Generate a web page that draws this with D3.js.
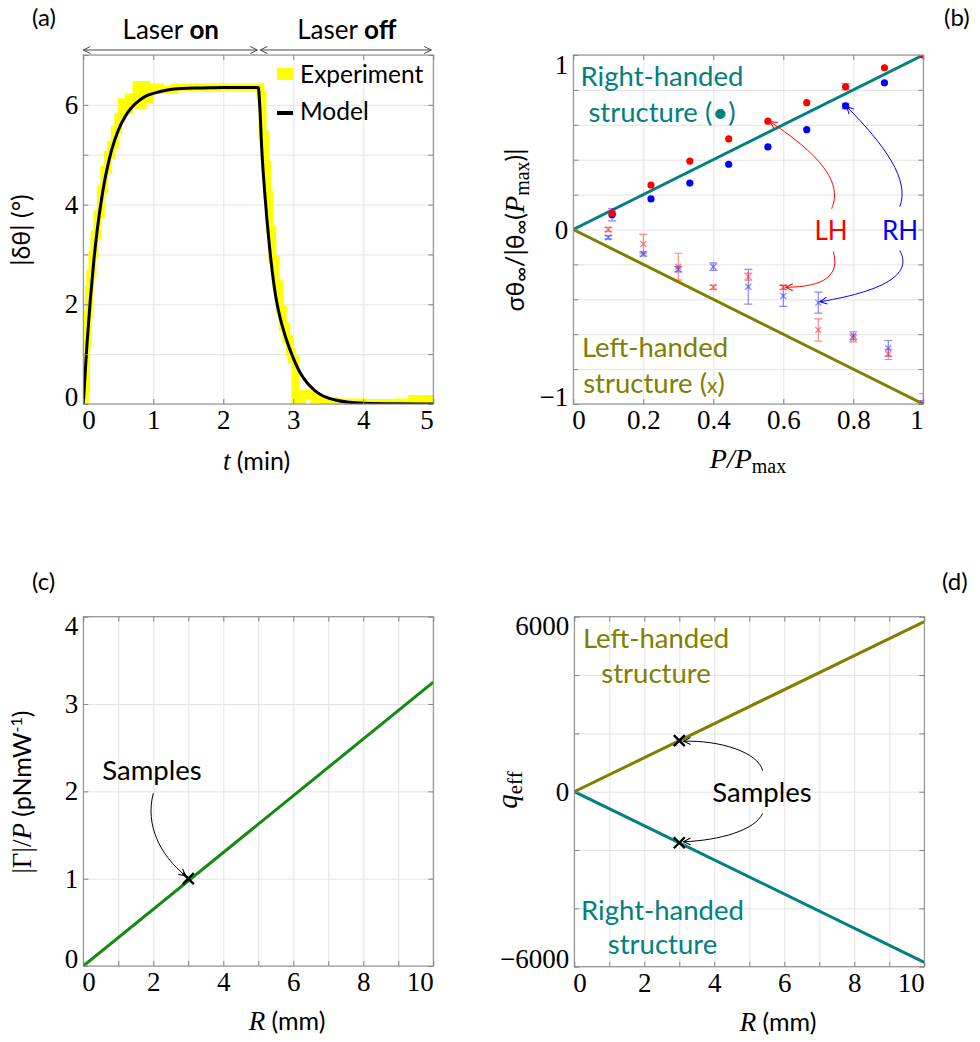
<!DOCTYPE html>
<html><head><meta charset="utf-8">
<script src="https://cdn.jsdelivr.net/npm/d3@7"></script>
<style>body{margin:0;background:#fff}</style>
</head><body>
<script>
// ---------------- DATA ----------------
// (a) time response
const aModelT = [0,0.05,0.1,0.15,0.2,0.25,0.3,0.35,0.4,0.5,0.6,0.7,0.8,0.9,1.0,1.2,1.4,1.7,2.0,2.5,2.52,2.55,2.6,2.65,2.7,2.75,2.8,2.9,3.0,3.1,3.2,3.3,3.4,3.6,3.8,4.0,4.5,5.0];
const aModelV = [0,1.15,2.09,2.87,3.50,4.01,4.44,4.78,5.07,5.49,5.77,5.96,6.09,6.18,6.23,6.30,6.33,6.34,6.35,6.35,6.0,5.1,4.1,3.3,2.65,2.15,1.8,1.3,0.92,0.62,0.42,0.28,0.18,0.08,0.035,0.015,0.003,0];
const aExpT = [0,0.02,0.04,0.06,0.08,0.1,0.13,0.16,0.2,0.25,0.3,0.35,0.4,0.45,0.5,0.55,0.6,0.65,0.7,0.76,0.8,0.85,0.9,0.95,1.1,1.3,1.6,2.0,2.5,2.53,2.56,2.6,2.63,2.66,2.7,2.75,2.8,2.85,2.9,2.95,2.98,3.03,3.08,3.12,3.2,3.3,3.45,3.6,4.0,4.5,4.7,5.0];
const aExpV = [0,0.3,1.2,1.8,2.3,2.6,3.0,3.4,3.8,4.3,4.7,5.0,5.2,5.5,5.75,6.05,5.9,6.15,6.0,6.4,6.0,6.4,6.1,6.35,6.3,6.35,6.35,6.35,6.35,6.2,5.4,4.8,4.2,3.5,2.9,2.4,1.9,1.55,1.3,1.05,0.9,0.0,0.05,0.2,0.18,0.1,0.06,0.03,0.02,0.03,0.1,0.12];
const aXTicks = [0,1,2,3,4,5];
const aXLabels = ['0','1','2','3','4','5'];
const aYTicks = [0,1,2,3,4,5,6,7];
const aYLabelVals = [0,2,4,6];
const aYLabels = ['0','2','4','6'];
const aPhaseT = [0,2.5,5];

// (b) normalized rotation vs power
const bDotX = [0.111,0.222,0.333,0.444,0.556,0.667,0.778,0.889,1.0];
const bDotLH = [0.093,0.255,0.392,0.519,0.621,0.727,0.818,0.927,1.0];
const bDotLHErr = [0.012,0,0,0,0,0,0.018,0,0];
const bDotRH = [0.085,0.175,0.266,0.374,0.473,0.572,0.708,0.841,1.0];
const bDotRHErr = [0.035,0,0,0,0,0,0.015,0,0];
const bCrossX = [0.1,0.2,0.3,0.4,0.5,0.6,0.7,0.8,0.9,1.0];
const bCrossLH = [0.0,-0.083,-0.213,-0.331,-0.27,-0.331,-0.576,-0.624,-0.715,-1.0];
const bCrossLHErr = [0.012,0.055,0.077,0.012,0.02,0.012,0.064,0.02,0.03,0.06];
const bCrossRH = [-0.045,-0.14,-0.228,-0.213,-0.328,-0.381,-0.419,-0.608,-0.681,-1.0];
const bCrossRHErr = [0.01,0.012,0.015,0.022,0.1,0.06,0.06,0.022,0.045,0.02];
const bLineP = [0,1];
const bRightLine = [0,1];
const bLeftLine = [0,-1];
const bTicks = [0,0.2,0.4,0.6,0.8,1];
const bXLabels = ['0','0.2','0.4','0.6','0.8','1'];
const bYTicks = [-1,-0.8,-0.6,-0.4,-0.2,0,0.2,0.4,0.6,0.8,1];
const bYLabelVals = [-1,0,1];
const bYLabels = ['\u22121','0','1'];

// (c) torque per power vs radius
const cLineR = [0,10];
const cLineG = [0,3.25];
const cSampleR = [3];
const cSampleG = [1.0];
const cXTicks = [0,1,2,3,4,5,6,7,8,9,10];
const cXLabelVals = [0,2,4,6,8,10];
const cXLabels = ['0','2','4','6','8','10'];
const cYTicks = [0,1,2,3,4];
const cYLabels = ['0','1','2','3','4'];

// (d) q_eff vs radius
const dLineR = [0,10];
const dLeft = [0,5830];
const dRight = [0,-5850];
const dSampleR = [3,3];
const dSampleQ = [1750,-1750];
const dYTicks = [-6000,-4000,-2000,0,2000,4000,6000];
const dYLabelVals = [-6000,0,6000];
const dYLabels = ['\u22126000','0','6000'];

// ---------------- STYLE ----------------
const SERIF = "'Liberation Serif','Times New Roman',serif";
const SANS = "Lato,'Open Sans',sans-serif";
const GRID = '#e3e3e3', BOX = '#858585';
const TEAL = '#008080', OLIVE = '#808000', GREEN = '#148a14';
const RED = '#ff0000', BLUE = '#0000ff';
const RED_T = 'rgba(255,40,40,0.55)', BLUE_T = 'rgba(40,40,255,0.55)';
const TICKFS = 27;

const svg = d3.select('body').append('svg').attr('width',980).attr('height',1042)
  .style('font-family',SANS);
const defs = svg.append('defs');
function marker(id,color){
  defs.append('marker').attr('id',id).attr('viewBox','-10 -5 12 10')
    .attr('refX',0).attr('refY',0).attr('markerWidth',12).attr('markerHeight',10)
    .attr('markerUnits','userSpaceOnUse').attr('orient','auto-start-reverse')
    .append('path').attr('d','M-7,-3.5L0,0L-7,3.5').attr('fill','none')
    .attr('stroke',color).attr('stroke-width',1);
}
marker('arrK','#000'); marker('arrR',RED); marker('arrB',BLUE); marker('arrG','#444');

function panel(o){
  const x = d3.scaleLinear().domain(o.xd).range([o.x0,o.x1]);
  const y = d3.scaleLinear().domain(o.yd).range([o.y1,o.y0]);
  const w = o.x1-o.x0, h = o.y1-o.y0;
  const root = svg.append('g');
  const gridL = root.append('g'), plotL = root.append('g'), axL = root.append('g'), annoL = root.append('g');
  defs.append('clipPath').attr('id','clip'+o.name).append('rect')
    .attr('x',o.x0).attr('y',o.y0).attr('width',w).attr('height',h);
  plotL.attr('clip-path',`url(#clip${o.name})`);
  const styleGrid = s => { s.select('.domain').remove(); s.selectAll('text').remove(); s.selectAll('line').attr('stroke',GRID).attr('stroke-width',1); };
  gridL.append('g').attr('transform',`translate(0,${o.y1})`)
    .call(d3.axisBottom(x).tickValues(o.xTicks).tickSize(-h).tickFormat(''))
    .call(styleGrid);
  gridL.append('g').attr('transform',`translate(${o.x0},0)`)
    .call(d3.axisLeft(y).tickValues(o.yTicks).tickSize(-w).tickFormat(''))
    .call(styleGrid);
  const tk = s => { s.select('.domain').remove(); s.selectAll('line').attr('stroke',BOX); };
  const xLab = v => { const i = o.xLabVals.indexOf(v); return i<0 ? '' : o.xLabs[i]; };
  const yLab = v => { const i = o.yLabVals.indexOf(v); return i<0 ? '' : o.yLabs[i]; };
  axL.append('g').attr('transform',`translate(0,${o.y1})`)
    .call(d3.axisBottom(x).tickValues(o.xTicks).tickSizeInner(-5).tickSizeOuter(0).tickFormat(xLab))
    .call(tk)
    .call(s => s.selectAll('text').attr('dy',null).attr('y',25)
      .attr('font-family',SERIF).attr('font-size',TICKFS).attr('fill','#000')
      .attr('text-anchor', d => d===o.xd[0] ? 'start' : (d===o.xd[1] ? 'end' : 'middle'))
      .attr('x', d => d===o.xd[0] ? -1.5 : 0));
  axL.append('g').attr('transform',`translate(0,${o.y0})`)
    .call(d3.axisTop(x).tickValues(o.xTicks).tickSizeInner(-5).tickSizeOuter(0).tickFormat(''))
    .call(tk).call(s=>s.selectAll('text').remove());
  axL.append('g').attr('transform',`translate(${o.x0},0)`)
    .call(d3.axisLeft(y).tickValues(o.yTicks).tickSizeInner(-5).tickSizeOuter(0).tickFormat(yLab))
    .call(tk)
    .call(s => s.selectAll('text').attr('dy',null).attr('x',-5)
      .attr('font-family',SERIF).attr('font-size',TICKFS).attr('fill','#000').attr('text-anchor','end')
      .attr('y', d => d===o.yd[1] ? (o.y0 - y(d)) + 18 : (d===o.yd[0] ? 1 : 8.5)));
  axL.append('g').attr('transform',`translate(${o.x1},0)`)
    .call(d3.axisRight(y).tickValues(o.yTicks).tickSizeInner(-5).tickSizeOuter(0).tickFormat(''))
    .call(tk).call(s=>s.selectAll('text').remove());
  axL.append('rect').attr('x',o.x0).attr('y',o.y0).attr('width',w).attr('height',h)
    .attr('fill','none').attr('stroke',BOX).attr('stroke-width',1);
  return {x,y,plotL,annoL};
}

function bez(p,x,y){
  return `M${x(p[0][0])},${y(p[0][1])}C${x(p[1][0])},${y(p[1][1])} ${x(p[2][0])},${y(p[2][1])} ${x(p[3][0])},${y(p[3][1])}`;
}
function xMark(sel, px, py, r, color, sw){
  sel.append('path').attr('d',`M${px-r},${py-r}L${px+r},${py+r}M${px-r},${py+r}L${px+r},${py-r}`)
    .attr('stroke',color).attr('stroke-width',sw).attr('fill','none');
}
function label(sel, x, y, parts, opts={}){
  const t = sel.append('text').attr('x',x).attr('y',y).attr('text-anchor',opts.anchor||'middle')
    .attr('font-size',opts.fs||24).attr('font-family',SANS).attr('fill',opts.fill||'#000');
  if(opts.rotate) t.attr('x',null).attr('y',null).attr('transform',`translate(${x},${y}) rotate(-90)`);
  parts.forEach(p => {
    const s = t.append('tspan').text(p.t);
    if(p.ff) s.attr('font-family',p.ff);
    if(p.fs) s.attr('font-size',p.fs);
    if(p.fi) s.attr('font-style','italic');
    if(p.fw) s.attr('font-weight',p.fw);
    if(p.dy) s.attr('dy',p.dy);
  });
  return t;
}

// ---------------- PANEL (a) ----------------
{
  const P = panel({name:'a', x0:83.3, x1:433.3, y0:55, y1:404, xd:[0,5], yd:[0,7],
    xTicks:aXTicks, yTicks:aYTicks, xLabVals:aXTicks, xLabs:aXLabels, yLabVals:aYLabelVals, yLabs:aYLabels});
  const {x,y,plotL,annoL} = P;
  const exp = d3.zip(aExpT,aExpV), mod = d3.zip(aModelT,aModelV);
  plotL.append('path').datum(exp).attr('fill','none').attr('stroke','#ffff00').attr('stroke-width',8)
    .attr('d', d3.line().x(d=>x(d[0])).y(d=>y(d[1])).curve(d3.curveStepAfter));
  plotL.append('path').datum(mod).attr('fill','none').attr('stroke','#000').attr('stroke-width',3)
    .attr('d', d3.line().x(d=>x(d[0])).y(d=>y(d[1])).curve(d3.curveMonotoneX));
  annoL.append('rect').attr('x',277).attr('y',68).attr('width',16).attr('height',12).attr('fill','#ffff00');
  label(annoL, 300, 83, [{t:'Experiment'}], {anchor:'start', fs:24.5});
  annoL.append('line').attr('x1',277).attr('x2',293).attr('y1',113).attr('y2',113).attr('stroke','#000').attr('stroke-width',4);
  label(annoL, 300, 120, [{t:'Model'}], {anchor:'start', fs:24.5});
  [[0,1],[1,2]].forEach(([i,j],k) => {
    annoL.append('line').attr('x1',x(aPhaseT[i]) + (k?2:0)).attr('x2',x(aPhaseT[j]) - (k?2:1))
      .attr('y1',50).attr('y2',50).attr('stroke','#444').attr('stroke-width',1)
      .attr('marker-start','url(#arrG)').attr('marker-end','url(#arrG)');
  });
  label(annoL, (x(aPhaseT[0])+x(aPhaseT[1]))/2, 39, [{t:'Laser '},{t:'on',fw:'bold'}], {fs:26});
  label(annoL, (x(aPhaseT[1])+x(aPhaseT[2]))/2 + 1, 39, [{t:'Laser '},{t:'off',fw:'bold'}], {fs:26});
  label(annoL, 256.5, 470, [{t:'t',ff:SERIF,fi:1,fs:27},{t:' (min)'}], {fs:25});
  label(annoL, 30, 230, [{t:'|\u03b4\u03b8| (\u00b0)'}], {rotate:1, fs:25});
  label(annoL, 32, 26, [{t:'(a)'}], {anchor:'start', fs:24});
}

// ---------------- PANEL (b) ----------------
{
  const P = panel({name:'b', x0:573.3, x1:923.3, y0:55, y1:404, xd:[0,1], yd:[-1,1],
    xTicks:bTicks, yTicks:bYTicks, xLabVals:bTicks, xLabs:bXLabels, yLabVals:bYLabelVals, yLabs:bYLabels});
  const {x,y,plotL,annoL} = P;
  const ln = d3.line().x(d=>x(d[0])).y(d=>y(d[1]));
  plotL.append('path').datum(d3.zip(bLineP,bRightLine)).attr('d',ln).attr('stroke',TEAL).attr('stroke-width',3).attr('fill','none');
  plotL.append('path').datum(d3.zip(bLineP,bLeftLine)).attr('d',ln).attr('stroke',OLIVE).attr('stroke-width',3).attr('fill','none');
  function errs(xs, vs, es, col){
    xs.forEach((xv,i) => {
      if(!es[i]) return;
      const px = x(xv), a = y(vs[i]-es[i]), b = y(vs[i]+es[i]);
      plotL.append('path').attr('d',`M${px},${a}L${px},${b}M${px-4},${a}L${px+4},${a}M${px-4},${b}L${px+4},${b}`)
        .attr('stroke',col).attr('stroke-width',1.2).attr('fill','none');
    });
  }
  errs(bCrossX,bCrossRH,bCrossRHErr,BLUE_T);
  errs(bCrossX,bCrossLH,bCrossLHErr,RED_T);
  bCrossX.forEach((xv,i)=> xMark(plotL, x(xv), y(bCrossRH[i]), 3, BLUE_T, 1.3));
  bCrossX.forEach((xv,i)=> xMark(plotL, x(xv), y(bCrossLH[i]), 3, RED_T, 1.3));
  errs(bDotX,bDotRH,bDotRHErr,BLUE_T);
  errs(bDotX,bDotLH,bDotLHErr,RED_T);
  plotL.selectAll('circle.rh').data(d3.zip(bDotX,bDotRH)).join('circle').attr('class','rh')
    .attr('cx',d=>x(d[0])).attr('cy',d=>y(d[1])).attr('r',3.6).attr('fill',BLUE);
  plotL.selectAll('circle.lh').data(d3.zip(bDotX,bDotLH)).join('circle').attr('class','lh')
    .attr('cx',d=>x(d[0])).attr('cy',d=>y(d[1])).attr('r',3.6).attr('fill',RED);
  const arrows = [
    {c:RED, m:'arrR', p:[[0.738,0.119],[0.768,0.255],[0.719,0.410],[0.562,0.618]]},
    {c:RED, m:'arrR', p:[[0.743,-0.127],[0.762,-0.261],[0.719,-0.330],[0.607,-0.331]]},
    {c:BLUE, m:'arrB', p:[[0.933,0.131],[0.962,0.284],[0.890,0.484],[0.781,0.704]]},
    {c:BLUE, m:'arrB', p:[[0.933,-0.121],[0.967,-0.244],[0.905,-0.347],[0.705,-0.414]]}
  ];
  arrows.forEach(a => annoL.append('path').attr('d',bez(a.p,x,y)).attr('fill','none')
    .attr('stroke',a.c).attr('stroke-width',1).attr('marker-end',`url(#${a.m})`));
  label(annoL, 831, 240, [{t:'LH'}], {fill:RED, fs:26});
  label(annoL, 900, 240, [{t:'RH'}], {fill:BLUE, fs:26});
  label(annoL, 662, 86, [{t:'Right-handed'}], {fill:TEAL, fs:27.5});
  label(annoL, 662, 122, [{t:'structure (\u2022)'}], {fill:TEAL, fs:27.5});
  label(annoL, 655, 357, [{t:'Left-handed'}], {fill:OLIVE, fs:27.5});
  label(annoL, 654, 393, [{t:'structure ('},{t:'x',fs:21},{t:')'}], {fill:OLIVE, fs:27.5});
  label(annoL, 748, 468, [{t:'P/P',ff:SERIF,fi:1,fs:28},{t:'max',ff:SERIF,fs:20,dy:5}]);
  label(annoL, 524, 230, [{t:'\u03c3\u03b8'},{t:'\u221e',fs:20,dy:4},{t:'/|\u03b8',dy:-4},{t:'\u221e',fs:20,dy:4},
    {t:'(',dy:-4},{t:'P',ff:SERIF,fi:1,fs:28},{t:'max',ff:SERIF,fs:20,dy:5},{t:')|',dy:-5}], {rotate:1, fs:25});
  label(annoL, 944, 26, [{t:'(b)'}], {anchor:'start', fs:24});
}

// ---------------- PANEL (c) ----------------
{
  const P = panel({name:'c', x0:83.3, x1:433.3, y0:616.7, y1:966, xd:[0,10], yd:[0,4],
    xTicks:cXTicks, yTicks:cYTicks, xLabVals:cXLabelVals, xLabs:cXLabels, yLabVals:cYTicks, yLabs:cYLabels});
  const {x,y,plotL,annoL} = P;
  plotL.append('path').datum(d3.zip(cLineR,cLineG)).attr('d',d3.line().x(d=>x(d[0])).y(d=>y(d[1])))
    .attr('stroke',GREEN).attr('stroke-width',3).attr('fill','none');
  cSampleR.forEach((r,i)=> xMark(annoL, x(r), y(cSampleG[i]), 5.5, '#000', 2.4));
  annoL.append('path').attr('d',bez([[2.0,1.978],[1.763,1.615],[2.189,1.271],[2.93,1.03]],x,y))
    .attr('fill','none').attr('stroke','#000').attr('stroke-width',1).attr('marker-end','url(#arrK)');
  label(annoL, 152, 780, [{t:'Samples'}], {fs:27.5});
  label(annoL, 287, 1030, [{t:'R',ff:SERIF,fi:1,fs:27},{t:' (mm)'}], {fs:25});
  label(annoL, 31, 792, [{t:'|\u0393|/',ff:SERIF,fs:27},{t:'P',ff:SERIF,fi:1,fs:27},{t:' (pNmW'},{t:'-1',fs:16,dy:-9},{t:')',dy:9}], {rotate:1, fs:25});
  label(annoL, 32, 590, [{t:'(c)'}], {anchor:'start', fs:24});
}

// ---------------- PANEL (d) ----------------
{
  const P = panel({name:'d', x0:574.3, x1:924.3, y0:616.7, y1:966.7, xd:[0,10], yd:[-6000,6000],
    xTicks:cXTicks, yTicks:dYTicks, xLabVals:cXLabelVals, xLabs:cXLabels, yLabVals:dYLabelVals, yLabs:dYLabels});
  const {x,y,plotL,annoL} = P;
  const ln = d3.line().x(d=>x(d[0])).y(d=>y(d[1]));
  plotL.append('path').datum(d3.zip(dLineR,dLeft)).attr('d',ln).attr('stroke',OLIVE).attr('stroke-width',3).attr('fill','none');
  plotL.append('path').datum(d3.zip(dLineR,dRight)).attr('d',ln).attr('stroke',TEAL).attr('stroke-width',3).attr('fill','none');
  dSampleR.forEach((r,i)=> xMark(annoL, x(r), y(dSampleQ[i]), 5.5, '#000', 2.4));
  annoL.append('path').attr('d',bez([[5.383,720],[5.251,1354],[4.165,1766],[3.12,1731]],x,y))
    .attr('fill','none').attr('stroke','#000').attr('stroke-width',1).attr('marker-end','url(#arrK)');
  annoL.append('path').attr('d',bez([[5.383,-741],[5.163,-1323],[4.163,-1666],[3.12,-1717]],x,y))
    .attr('fill','none').attr('stroke','#000').attr('stroke-width',1).attr('marker-end','url(#arrK)');
  label(annoL, 762, 802, [{t:'Samples'}], {fs:27.5});
  label(annoL, 656, 648, [{t:'Left-handed'}], {fill:OLIVE, fs:27.5});
  label(annoL, 656, 683, [{t:'structure'}], {fill:OLIVE, fs:27.5});
  label(annoL, 662.5, 920, [{t:'Right-handed'}], {fill:TEAL, fs:27.5});
  label(annoL, 662.5, 954, [{t:'structure'}], {fill:TEAL, fs:27.5});
  label(annoL, 778, 1031, [{t:'R',ff:SERIF,fi:1,fs:27},{t:' (mm)'}], {fs:25});
  label(annoL, 517, 790, [{t:'q',ff:SERIF,fi:1,fs:29},{t:'eff',ff:SERIF,fs:21,dy:5}], {rotate:1});
  label(annoL, 942, 590, [{t:'(d)'}], {anchor:'start', fs:24});
}
</script>
</body></html>
